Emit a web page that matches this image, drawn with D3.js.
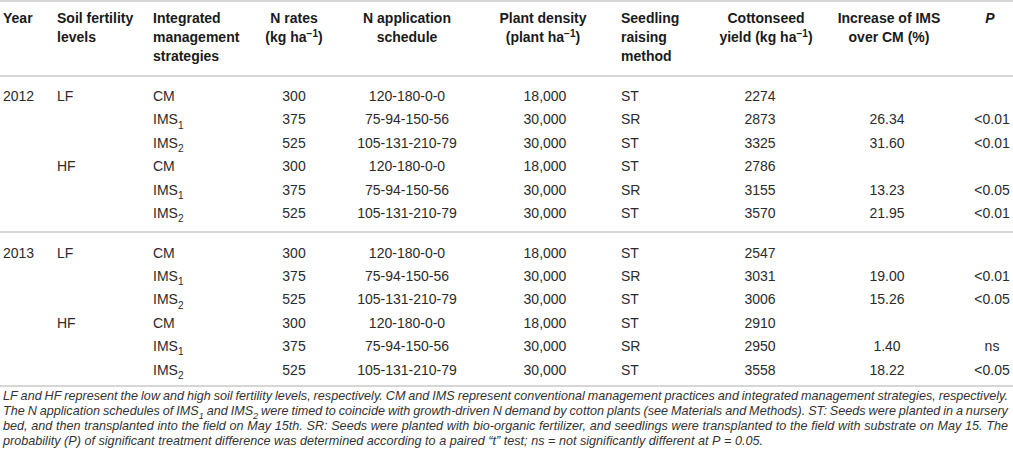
<!DOCTYPE html>
<html>
<head>
<meta charset="utf-8">
<script src="https://cdn.jsdelivr.net/npm/d3@7"></script>
<style>
  html, body { margin: 0; padding: 0; background: #fff; }
  svg { display: block; }
  text { font-family: "Liberation Sans", Arial, Helvetica, sans-serif; }
</style>
</head>
<body>
<script>
// ---------------- DATA ----------------
const years = ["2012", "2013"];
const fertilityLevels = ["LF", "HF"];
const strategies = ["CM", "IMS_{1}", "IMS_{2}"];
const nRates = ["300", "375", "525"];
const schedules = ["120-180-0-0", "75-94-150-56", "105-131-210-79"];
const densities = ["18,000", "30,000", "30,000"];
const methods = ["ST", "SR", "ST"];
const yields = ["2274", "2873", "3325", "2786", "3155", "3570",
                "2547", "3031", "3006", "2910", "2950", "3558"];
const increases = ["", "26.34", "31.60", "", "13.23", "21.95",
                   "", "19.00", "15.26", "", "1.40", "18.22"];
const pValues = ["", "<0.01", "<0.01", "", "<0.05", "<0.01",
                 "", "<0.01", "<0.05", "", "ns", "<0.05"];
const headers = [
  ["Year"],
  ["Soil fertility", "levels"],
  ["Integrated", "management", "strategies"],
  ["N rates", "(kg ha^{−1})"],
  ["N application", "schedule"],
  ["Plant density", "(plant ha^{−1})"],
  ["Seedling", "raising", "method"],
  ["Cottonseed", "yield (kg ha^{−1})"],
  ["Increase of IMS", "over CM (%)"],
  ["*P*"]
];
const footnote = [
  "LF and HF represent the low and high soil fertility levels, respectively. CM and IMS represent conventional management practices and integrated management strategies, respectively.",
  "The N application schedules of IMS_{1} and IMS_{2} were timed to coincide with growth-driven N demand by cotton plants (see Materials and Methods). ST: Seeds were planted in a nursery",
  "bed, and then transplanted into the field on May 15th. SR: Seeds were planted with bio-organic fertilizer, and seedlings were transplanted to the field with substrate on May 15. The",
  "probability (P) of significant treatment difference was determined according to a paired “t” test; ns = not significantly different at P = 0.05."
];

// ---------------- LAYOUT ----------------
const W = 1013, H = 465;
const svg = d3.select("body").append("svg").attr("width", W).attr("height", H);

const cols = [
  {hx: 3,   ha: "start",  bx: 3,   ba: "start"},
  {hx: 57,  ha: "start",  bx: 57,  ba: "start"},
  {hx: 153, ha: "start",  bx: 153, ba: "start"},
  {hx: 294, ha: "middle", bx: 294, ba: "middle"},
  {hx: 407, ha: "middle", bx: 407, ba: "middle"},
  {hx: 543, ha: "middle", bx: 545, ba: "middle"},
  {hx: 621, ha: "start",  bx: 621, ba: "start"},
  {hx: 766, ha: "middle", bx: 760, ba: "middle"},
  {hx: 889, ha: "middle", bx: 887, ba: "middle"},
  {hx: 990, ha: "middle", bx: 992, ba: "middle"}
];

// rich text: ^{..} superscript, _{..} subscript, *..* italic
function rich(textSel, str, size) {
  const parts = str.split(/(\^\{[^}]*\}|_\{[^}]*\}|\*[^*]*\*)/).filter(s => s.length);
  let shift = 0; // current baseline offset
  parts.forEach(p => {
    let target = 0, content = p, small = false, ital = false;
    if (p.startsWith("^{")) { target = -size * 0.38; content = p.slice(2, -1); small = true; }
    else if (p.startsWith("_{")) { target = size * 0.3; content = p.slice(2, -1); small = true; }
    else if (p.startsWith("*")) { content = p.slice(1, -1); ital = true; }
    const ts = textSel.append("tspan").text(content);
    if (target !== shift) { ts.attr("dy", target - shift); shift = target; }
    if (small) ts.attr("font-size", size * 0.72);
    if (ital) ts.attr("font-style", "italic");
  });
}

// rules
const ruleY = [1, 76, 232, 386];
svg.selectAll("line.rule").data(ruleY).join("line")
  .attr("class", "rule")
  .attr("x1", 0).attr("x2", W)
  .attr("y1", d => d).attr("y2", d => d)
  .attr("stroke", "#c9c9c9").attr("stroke-width", 1.6);

// header
const headY = d3.scaleLinear().domain([0, 2]).range([23, 61]);
headers.forEach((lines, ci) => {
  lines.forEach((ln, li) => {
    const t = svg.append("text")
      .attr("x", cols[ci].hx).attr("y", headY(li))
      .attr("text-anchor", cols[ci].ha)
      .attr("font-size", 14).attr("font-weight", "bold").attr("fill", "#1a1a1a");
    rich(t, ln, 14);
  });
});

// body rows
const rows = [];
d3.cross(years, fertilityLevels, d3.range(3)).forEach(([yr, fl, si], i) => {
  rows.push({
    i, block: years.indexOf(yr),
    cells: [
      (fertilityLevels.indexOf(fl) === 0 && si === 0) ? yr : "",
      si === 0 ? fl : "",
      strategies[si], nRates[si], schedules[si], densities[si], methods[si],
      yields[i], increases[i], pValues[i]
    ]
  });
});
const rowY = d3.scaleLinear().domain([0, 5]).range([101, 218]);
const blockShift = d3.scaleLinear().domain([0, 1]).range([0, 156.5]);

const rowG = svg.selectAll("g.row").data(rows).join("g")
  .attr("class", "row")
  .attr("transform", d => `translate(0,${rowY(d.i % 6) + blockShift(d.block)})`);
rowG.each(function(d) {
  const g = d3.select(this);
  d.cells.forEach((c, ci) => {
    if (!c) return;
    const t = g.append("text")
      .attr("x", cols[ci].bx).attr("y", 0)
      .attr("text-anchor", cols[ci].ba)
      .attr("font-size", 14).attr("fill", "#2b2b2b");
    rich(t, c, 14);
  });
});

// footnote (justified, italic)
const fnSize = 12.5, fnLeft = 3, fnRight = 1008;
const fnY = d3.scaleLinear().domain([0, 3]).range([400, 445]);
const fg = svg.append("g");
const measured = footnote.map((line, li) => {
  const words = line.split(" ");
  return words.map(w => {
    const t = fg.append("text").attr("font-size", fnSize).attr("font-style", "italic")
      .attr("fill", "#333").attr("y", fnY(li));
    rich(t, w, fnSize);
    return {t, w: t.node().getComputedTextLength()};
  });
});
const spaceW = fnSize * 0.278;
const lastNatural = d3.sum(measured[3], d => d.w) + spaceW * (measured[3].length - 1);
const sx = 760 / lastNatural;
fg.attr("transform", `translate(${fnLeft},0) scale(${sx},1)`);
const avail = (fnRight - fnLeft) / sx;
measured.forEach((ws, li) => {
  const total = d3.sum(ws, d => d.w);
  const gap = li < 3 ? (avail - total) / (ws.length - 1) : spaceW;
  let x = 0;
  ws.forEach(d => { d.t.attr("x", x); x += d.w + gap; });
});
</script>
</body>
</html>
